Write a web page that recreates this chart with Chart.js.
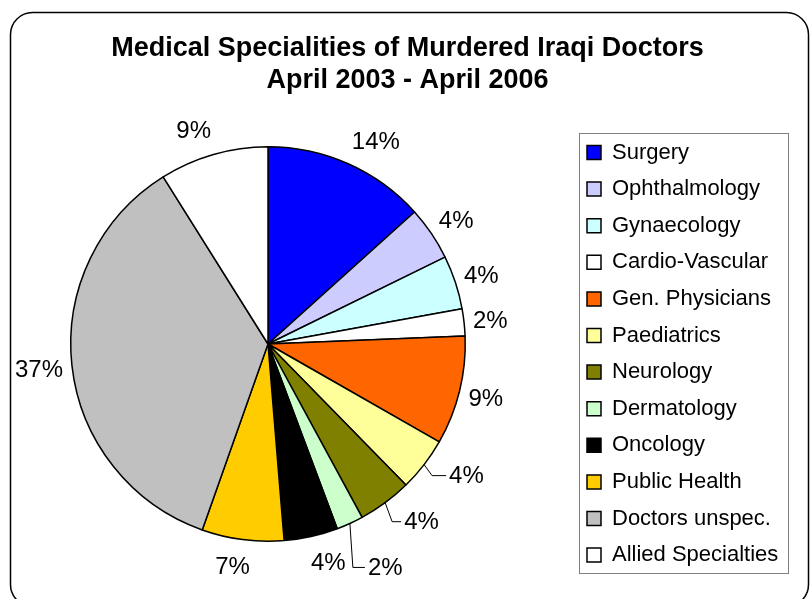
<!DOCTYPE html>
<html>
<head>
<meta charset="utf-8">
<title>Medical Specialities of Murdered Iraqi Doctors</title>
<script src="https://cdn.jsdelivr.net/npm/chart.js@4/dist/chart.umd.min.js"></script>
<style>
    html, body { margin: 0; padding: 0; background: #ffffff; }
    #wrap { width: 810px; height: 599px; }
</style>
</head>
<body>
<div id="wrap">
    <canvas id="pieChart" width="810" height="599"></canvas>
</div>
<script>
const specialities = [
    "Surgery", "Ophthalmology", "Gynaecology", "Cardio-Vascular",
    "Gen. Physicians", "Paediatrics", "Neurology", "Dermatology",
    "Oncology", "Public Health", "Doctors unspec.", "Allied Specialties"
];
// share of the circle
const shares = [13.3, 4.4, 4.4, 2.2, 8.9, 4.4, 4.4, 2.2, 4.4, 6.7, 35.6, 8.9];
// percentages as printed next to the slices
const pctLabels = ["14%", "4%", "4%", "2%", "9%", "4%", "4%", "2%", "4%", "7%", "37%", "9%"];
const sliceColors = [
    "#0000ff", "#ccccff", "#ccffff", "#ffffff", "#ff6600", "#ffff99",
    "#808000", "#ccffcc", "#000000", "#ffcc00", "#c0c0c0", "#ffffff"
];
// leader lines for the crowded small slices: [dx, dy, run] from the slice edge
const leaders = [null, null, null, null, null, [8, 11, 14], [7, 19, 9], [3, 44, 12], null, null, null, null];

const FONT = '"Liberation Sans", Arial, Helvetica, sans-serif';
const PIE = { cx: 268, cy: 344, r: 198 };
const LEGEND = { boxLeft: 587, firstTop: 141.5, frame: [579.5, 133.5, 209, 440] };

// outer rounded frame
const framePlugin = {
    id: "frame",
    beforeDraw(chart) {
        const ctx = chart.ctx;
        ctx.save();
        ctx.fillStyle = "#ffffff";
        ctx.fillRect(0, 0, chart.width, chart.height);
        ctx.beginPath();
        ctx.roundRect(10.5, 12.5, 798, 594, 22);
        ctx.strokeStyle = "#000000";
        ctx.lineWidth = 1.5;
        ctx.stroke();
        ctx.restore();
    },
    afterDraw(chart) {
        // border round the legend
        const ctx = chart.ctx;
        const f = LEGEND.frame;
        ctx.save();
        ctx.strokeStyle = "#808080";
        ctx.lineWidth = 1;
        ctx.strokeRect(f[0], f[1], f[2], f[3]);
        ctx.restore();
    }
};

// put the pie and legend where the original has them
const placePlugin = {
    id: "place",
    afterLayout(chart) {
        const lg = chart.legend;
        const pad = lg.options.labels.padding;
        lg.left = LEGEND.boxLeft - pad;
        lg.right = lg.left + lg.width;
        lg.top = LEGEND.firstTop - pad;
        lg.bottom = lg.top + lg.height;
        Object.assign(chart.chartArea, {
            left: PIE.cx - PIE.r, right: PIE.cx + PIE.r,
            top: PIE.cy - PIE.r, bottom: PIE.cy + PIE.r,
            width: 2 * PIE.r, height: 2 * PIE.r
        });
    }
};

// percentage labels outside the slices
const labelPlugin = {
    id: "pctLabels",
    afterDatasetsDraw(chart) {
        const ctx = chart.ctx;
        const arcs = chart.getDatasetMeta(0).data;
        ctx.save();
        ctx.font = "24px " + FONT;
        ctx.fillStyle = "#000000";
        ctx.textBaseline = "middle";
        arcs.forEach((arc, i) => {
            const a = (arc.startAngle + arc.endAngle) / 2;
            const cos = Math.cos(a);
            const sin = Math.sin(a);
            const r = arc.outerRadius;
            const text = pctLabels[i];
            const lead = leaders[i];
            if (lead) {
                const x0 = arc.x + cos * r, y0 = arc.y + sin * r;
                const x1 = x0 + lead[0], y1 = y0 + lead[1];
                ctx.beginPath();
                ctx.moveTo(x0, y0);
                ctx.lineTo(x1, y1);
                ctx.lineTo(x1 + lead[2], y1);
                ctx.strokeStyle = "#000000";
                ctx.lineWidth = 1;
                ctx.stroke();
                ctx.textAlign = "left";
                ctx.fillText(text, x1 + lead[2] + 3, y1 + 1);
            } else {
                const w = ctx.measureText(text).width;
                const px = arc.x + cos * (r + 9);
                const py = arc.y + sin * (r + 9);
                const k = Math.max(-1, Math.min(1, 4 * cos));
                ctx.textAlign = "center";
                ctx.fillText(text, px + k * w / 2, py + 17 * sin + 2);
            }
        });
        ctx.restore();
    }
};

new Chart(document.getElementById("pieChart"), {
    type: "pie",
    data: {
        labels: specialities,
        datasets: [{
            data: shares,
            backgroundColor: sliceColors,
            borderColor: "#000000",
            borderWidth: 1.5
        }]
    },
    options: {
        responsive: false,
        animation: false,
        layout: { padding: { top: 12, left: 10, right: 5, bottom: 0 } },
        plugins: {
            title: {
                display: true,
                text: ["Medical Specialities of Murdered Iraqi Doctors", "April 2003 - April 2006"],
                color: "#000000",
                font: { family: FONT, size: 27, weight: "bold", lineHeight: 1.2 },
                padding: { top: 20.4, bottom: 10 }
            },
            legend: {
                position: "right",
                align: "start",
                labels: {
                    color: "#000000",
                    font: { family: FONT, size: 22 },
                    boxWidth: 14,
                    boxHeight: 14,
                    padding: 14.6
                }
            },
            tooltip: { enabled: false }
        }
    },
    plugins: [framePlugin, placePlugin, labelPlugin]
});
</script>
</body>
</html>
